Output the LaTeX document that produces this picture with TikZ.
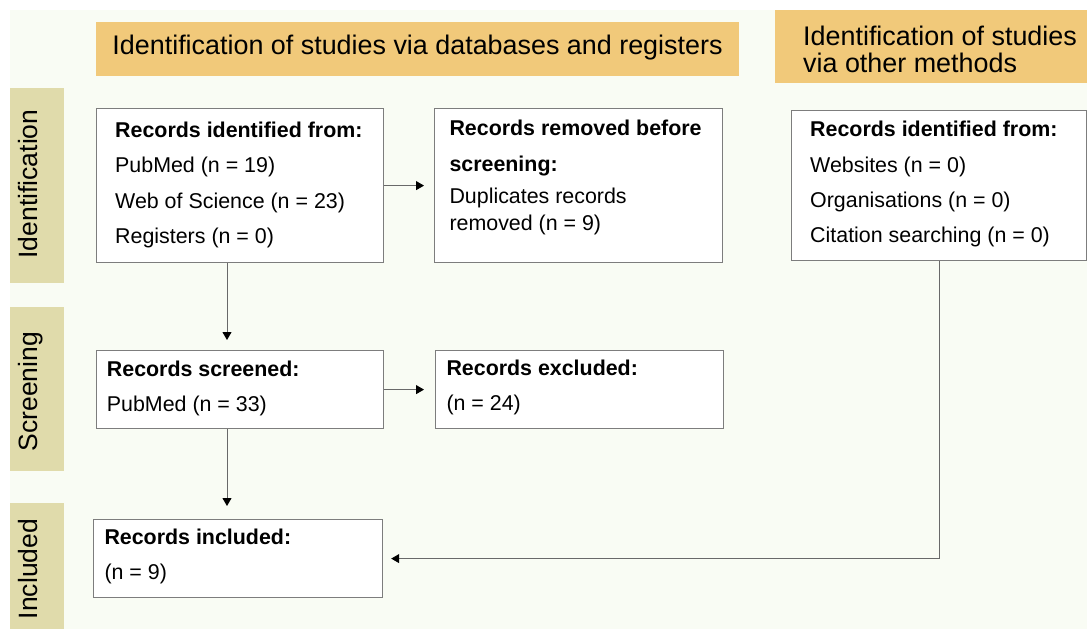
\documentclass[tikz,border=0pt]{standalone}
\usepackage{fontspec}
\setmainfont{Liberation Sans}
\usetikzlibrary{arrows.meta}
\definecolor{bgc}{RGB}{249,252,244}
\definecolor{hdr}{RGB}{241,201,122}
\definecolor{sidec}{RGB}{224,219,171}
\definecolor{edgec}{RGB}{125,125,125}
\definecolor{linec}{RGB}{105,105,105}
\begin{document}
\begin{tikzpicture}[x=1pt,y=-1pt,
  box/.style={draw=edgec,line width=1.2pt,fill=white,anchor=north west,inner sep=0pt},
  hdrbox/.style={fill=hdr,anchor=north west,inner sep=0pt},
  sidebox/.style={fill=sidec,anchor=north west,inner sep=0pt},
  bigtxt/.style={font=\fontsize{26.9}{26.7}\selectfont},
  boxtxt/.style={font=\fontsize{21.4}{35.3}\selectfont,align=left,anchor=north west,inner sep=0pt},
  sidetxt/.style={font=\fontsize{26.5}{30}\selectfont,rotate=90,text height=0.72em,text depth=0pt,inner sep=0pt},
  conn/.style={draw=linec,line width=1pt,-{Triangle[length=8pt,width=9pt,color=black]}}
]
\useasboundingbox (0,0) rectangle (1087,629);
\fill[bgc] (10,10) rectangle (1087,629);

% headers
\node[hdrbox,minimum width=643pt,minimum height=54pt] (h1) at (96,22) {};
\node[bigtxt,text height=0.72em,text depth=0pt,inner sep=0pt] (h1t) at (417.5,50.8) {Identification of studies via databases and registers};
\node[hdrbox,minimum width=312pt,minimum height=73pt] (h2) at (775,10) {};
\node[bigtxt,align=left,anchor=north west,inner sep=0pt] (h2t) at (803,26.3) {Identification of studies\\via other methods};

% side labels
\node[sidebox,minimum width=54pt,minimum height=195pt] (s1) at (10,88) {};
\node[sidebox,minimum width=54pt,minimum height=164pt] (s2) at (10,307) {};
\node[sidebox,minimum width=54pt,minimum height=126pt] (s3) at (10,503) {};
\node[sidetxt] (s1t) at (34.2,184) {Identification};
\node[sidetxt] (s2t) at (34.2,391.7) {Screening};
\node[sidetxt] (s3t) at (34.2,569) {Included};

% boxes
\node[box,minimum width=287pt,minimum height=154pt] (b1) at (96,108) {};
\node[box,minimum width=288pt,minimum height=154pt] (b2) at (434,108) {};
\node[box,minimum width=295pt,minimum height=150pt] (b3) at (791,110) {};
\node[box,minimum width=287pt,minimum height=78pt] (b4) at (96,350) {};
\node[box,minimum width=288pt,minimum height=78pt] (b5) at (435,350) {};
\node[box,minimum width=289pt,minimum height=78pt] (b6) at (93,519) {};

\node[boxtxt] (b1t) at (115,121.7) {\textbf{Records identified from:}\\PubMed (n = 19)\\Web of Science (n = 23)\\Registers (n = 0)};
\node[boxtxt,font=\fontsize{21.4}{27}\selectfont] (b2t) at (449.3,119.4) {\textbf{Records removed before}\\[9pt]\textbf{screening:}\\[5pt]Duplicates records\\removed (n = 9)};
\node[boxtxt] (b3t) at (810,121.1) {\textbf{Records identified from:}\\Websites (n = 0)\\Organisations (n = 0)\\Citation searching (n = 0)};
\node[boxtxt] (b4t) at (106.7,360.4) {\textbf{Records screened:}\\PubMed (n = 33)};
\node[boxtxt] (b5t) at (446.3,359.4) {\textbf{Records excluded:}\\(n = 24)};
\node[boxtxt] (b6t) at (104.3,528.7) {\textbf{Records included:}\\(n = 9)};

% connectors
\draw[conn,shorten >=10pt] (b1.east) -- (b2.west);
\draw[conn,shorten >=11pt] (b4.east) -- (b5.west);
\draw[conn,shorten >=10pt] ([xshift=131pt]b1.south west) -- ([xshift=131pt]b4.north west);
\draw[conn,shorten >=13pt] ([xshift=131pt]b4.south west) -- ([xshift=134pt]b6.north west);
\draw[conn,shorten >=8pt] (b3.south) |- (b6.east);
\end{tikzpicture}
\end{document}
